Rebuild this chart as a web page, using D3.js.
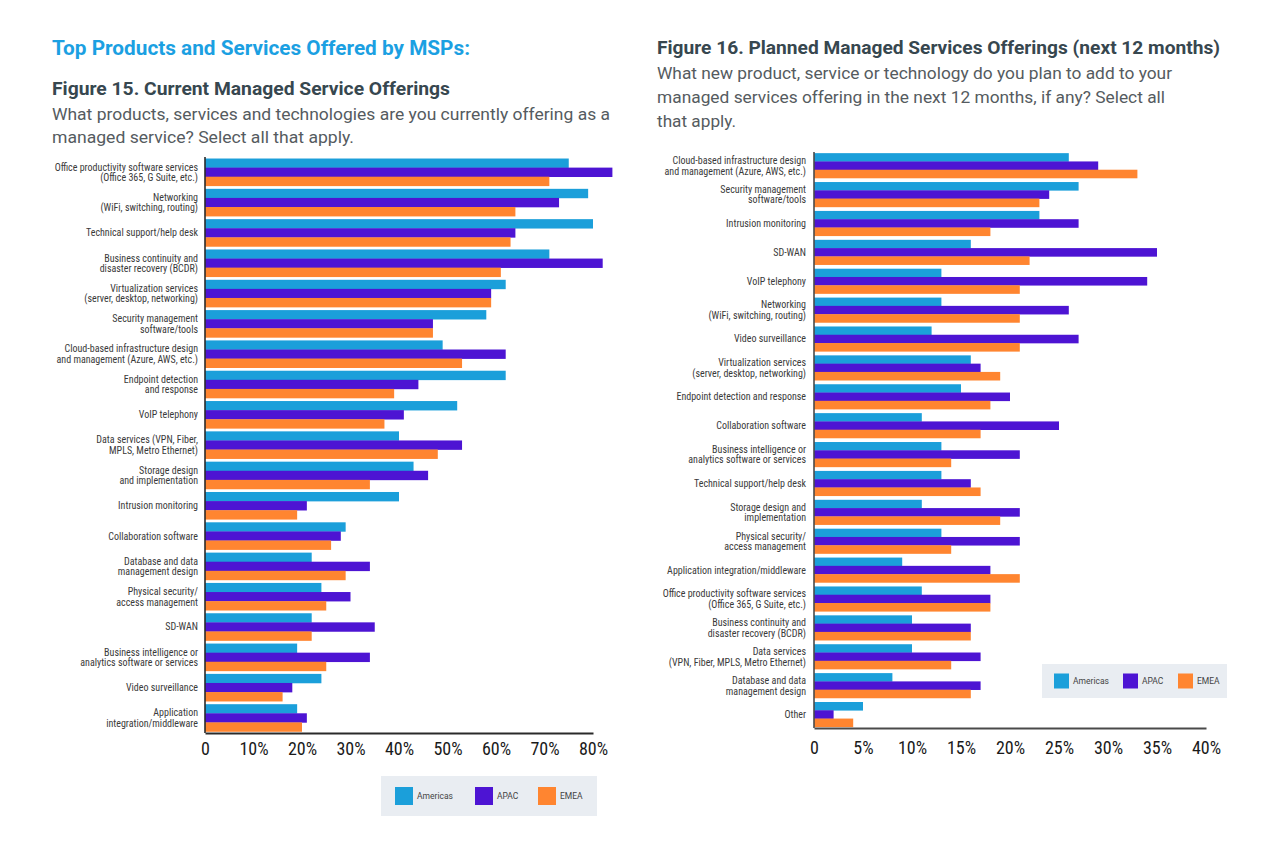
<!DOCTYPE html>
<html>
<head>
<meta charset="utf-8">
<script src="https://cdn.jsdelivr.net/npm/d3@7"></script>
<style>
  html, body { margin: 0; padding: 0; background: #ffffff; }
  svg { display: block; }
</style>
</head>
<body>
<svg id="chart" width="1276" height="855"></svg>
<script>
// ---------- DATA ----------
const regions = ["Americas", "APAC", "EMEA"];
const regionColors = ["#1b9fda", "#4d14d3", "#ff8530"];

const leftCategories = [
  "Office productivity software services\n(Office 365, G Suite, etc.)",
  "Networking\n(WiFi, switching, routing)",
  "Technical support/help desk",
  "Business continuity and\ndisaster recovery (BCDR)",
  "Virtualization services\n(server, desktop, networking)",
  "Security management\nsoftware/tools",
  "Cloud-based infrastructure design\nand management (Azure, AWS, etc.)",
  "Endpoint detection\nand response",
  "VoIP telephony",
  "Data services (VPN, Fiber,\nMPLS, Metro Ethernet)",
  "Storage design\nand implementation",
  "Intrusion monitoring",
  "Collaboration software",
  "Database and data\nmanagement design",
  "Physical security/\naccess management",
  "SD-WAN",
  "Business intelligence or\nanalytics software or services",
  "Video surveillance",
  "Application\nintegration/middleware"
];
const leftAmericas = [75, 79, 80, 71, 62, 58, 49, 62, 52, 40, 43, 40, 29, 22, 24, 22, 19, 24, 19];
const leftAPAC     = [84, 73, 64, 82, 59, 47, 62, 44, 41, 53, 46, 21, 28, 34, 30, 35, 34, 18, 21];
const leftEMEA     = [71, 64, 63, 61, 59, 47, 53, 39, 37, 48, 34, 19, 26, 29, 25, 22, 25, 16, 20];
const leftTicks = [0, 10, 20, 30, 40, 50, 60, 70, 80];

const rightCategories = [
  "Cloud-based infrastructure design\nand management (Azure, AWS, etc.)",
  "Security management\nsoftware/tools",
  "Intrusion monitoring",
  "SD-WAN",
  "VoIP telephony",
  "Networking\n(WiFi, switching, routing)",
  "Video surveillance",
  "Virtualization services\n(server, desktop, networking)",
  "Endpoint detection and response",
  "Collaboration software",
  "Business intelligence or\nanalytics software or services",
  "Technical support/help desk",
  "Storage design and\nimplementation",
  "Physical security/\naccess management",
  "Application integration/middleware",
  "Office productivity software services\n(Office 365, G Suite, etc.)",
  "Business continuity and\ndisaster recovery (BCDR)",
  "Data services\n(VPN, Fiber, MPLS, Metro Ethernet)",
  "Database and data\nmanagement design",
  "Other"
];
const rightAmericas = [26, 27, 23, 16, 13, 13, 12, 16, 15, 11, 13, 13, 11, 13, 9, 11, 10, 10, 8, 5];
const rightAPAC     = [29, 24, 27, 35, 34, 26, 27, 17, 20, 25, 21, 16, 21, 21, 18, 18, 16, 17, 17, 2];
const rightEMEA     = [33, 23, 18, 22, 21, 21, 21, 19, 18, 17, 14, 17, 19, 14, 21, 18, 16, 14, 16, 4];
const rightTicks = [0, 5, 10, 15, 20, 25, 30, 35, 40];

// ---------- DRAW ----------
const svg = d3.select("#chart");
const labelFont = "'Liberation Sans Narrow', 'Roboto Condensed', 'DejaVu Sans Condensed', Roboto, sans-serif";
const titleFont = "Roboto, 'Open Sans', sans-serif";

function fitText(sel, width) {
  sel.attr("textLength", width).attr("lengthAdjust", "spacingAndGlyphs");
}

// Headings
fitText(svg.append("text").attr("x", 52).attr("y", 55)
  .attr("font-family", titleFont).attr("font-weight", 700).attr("font-size", 20)
  .attr("fill", "#1ba0e2").text("Top Products and Services Offered by MSPs:"), 418);

fitText(svg.append("text").attr("x", 52).attr("y", 95)
  .attr("font-family", titleFont).attr("font-weight", 700).attr("font-size", 19)
  .attr("fill", "#37474f").text("Figure 15. Current Managed Service Offerings"), 398);

const leftSub = ["What products, services and technologies are you currently offering as a",
                 "managed service? Select all that apply."];
const leftSubW = [558, 302];
leftSub.forEach((t, i) => fitText(svg.append("text").attr("x", 52).attr("y", 120 + i * 23)
  .attr("font-family", titleFont).attr("font-size", 17).attr("fill", "#555b60").text(t), leftSubW[i]));

fitText(svg.append("text").attr("x", 657).attr("y", 54)
  .attr("font-family", titleFont).attr("font-weight", 700).attr("font-size", 19)
  .attr("fill", "#37474f").text("Figure 16. Planned Managed Services Offerings (next 12 months)"), 563);

const rightSub = ["What new product, service or technology do you plan to add to your",
                  "managed services offering in the next 12 months, if any? Select all",
                  "that apply."];
const rightSubW = [515, 508, 79];
rightSub.forEach((t, i) => fitText(svg.append("text").attr("x", 657).attr("y", 79 + i * 24)
  .attr("font-family", titleFont).attr("font-size", 17).attr("fill", "#555b60").text(t), rightSubW[i]));

function drawChart(cfg) {
  const g = svg.append("g");
  const x = d3.scaleLinear().domain([0, cfg.max]).range([cfg.x0, cfg.x1]);
  const y = d3.scaleBand().domain(cfg.categories).range([cfg.y0, cfg.y1])
    .paddingInner(cfg.padInner).paddingOuter(cfg.padOuter);
  const sub = d3.scaleBand().domain(regions).range([0, y.bandwidth()]);
  const series = [cfg.americas, cfg.apac, cfg.emea];

  regions.forEach((r, ri) => {
    g.append("g").selectAll("rect").data(cfg.categories).join("rect")
      .attr("x", x(0))
      .attr("y", d => y(d) + sub(r))
      .attr("width", (d, i) => x(series[ri][i]) - x(0))
      .attr("height", sub.bandwidth() + 0.3)
      .attr("fill", regionColors[ri]);
  });

  // category labels
  const lab = g.append("g").attr("font-family", labelFont).attr("font-size", cfg.labelSize)
    .attr("fill", "#3a3a3a").attr("text-anchor", "end");
  cfg.categories.forEach(c => {
    const lines = c.split("\n");
    const cy = y(c) + y.bandwidth() / 2;
    const t = lab.append("text").attr("x", cfg.labelX);
    if (lines.length === 1) {
      t.append("tspan").attr("x", cfg.labelX).attr("y", cy + 3.6).text(lines[0]);
    } else {
      t.append("tspan").attr("x", cfg.labelX).attr("y", cy - 1.6).text(lines[0]);
      t.append("tspan").attr("x", cfg.labelX).attr("y", cy + 9).text(lines[1]);
    }
  });

  // vertical axis line
  g.append("line").attr("x1", x(0)).attr("x2", x(0))
    .attr("y1", cfg.y0).attr("y2", cfg.y1)
    .attr("stroke", cfg.axisColor).attr("stroke-width", 1.6);

  // bottom axis
  const ax = g.append("g").attr("transform", `translate(0,${cfg.y1})`)
    .call(d3.axisBottom(x).tickValues(cfg.ticks).tickSize(0).tickSizeOuter(0)
      .tickPadding(cfg.tickPad).tickFormat(d => d === 0 ? "0" : d + "%"));
  ax.select(".domain").attr("stroke", cfg.axisColor).attr("stroke-width", 2);
  ax.selectAll("text").attr("font-family", labelFont).attr("font-size", 18).attr("fill", "#1a1a1a");
}

drawChart({
  categories: leftCategories, americas: leftAmericas, apac: leftAPAC, emea: leftEMEA,
  ticks: leftTicks, max: 80, x0: 205, x1: 593, y0: 157, y1: 733,
  padInner: 0.1, padOuter: 0.05, labelX: 198, labelSize: 10, tickPad: 9, axisColor: "#2a2a2a"
});

drawChart({
  categories: rightCategories, americas: rightAmericas, apac: rightAPAC, emea: rightEMEA,
  ticks: rightTicks, max: 40, x0: 814, x1: 1206, y0: 152, y1: 728,
  padInner: 0.14, padOuter: 0.04, labelX: 806, labelSize: 10, tickPad: 13, axisColor: "#4a4a4a"
});

// legends
function drawLegend(L) {
  const g = svg.append("g");
  g.append("rect").attr("x", L.x).attr("y", L.y).attr("width", L.w).attr("height", L.h).attr("fill", "#e9edf2");
  regions.forEach((r, i) => {
    g.append("rect").attr("x", L.sx[i]).attr("y", L.y + (L.h - L.s) / 2)
      .attr("width", L.s).attr("height", L.s).attr("fill", regionColors[i]);
    g.append("text").attr("x", L.sx[i] + L.s + L.gap).attr("y", L.y + L.h / 2 + 3)
      .attr("font-family", "Roboto, sans-serif").attr("font-size", 8.5).attr("fill", "#444")
      .text(r);
  });
}
drawLegend({ x: 381, y: 776, w: 216, h: 40, s: 18, gap: 4, sx: [395, 475, 538] });
drawLegend({ x: 1042, y: 664, w: 185, h: 34, s: 15, gap: 4, sx: [1054, 1123, 1178] });
</script>
</body>
</html>
